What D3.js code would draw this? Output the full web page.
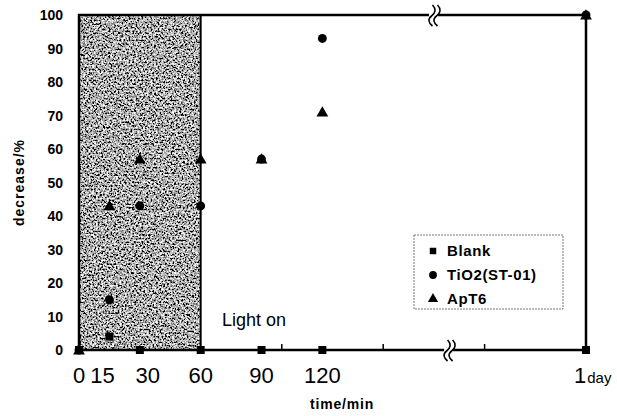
<!DOCTYPE html>
<html>
<head>
<meta charset="utf-8">
<script src="https://cdn.jsdelivr.net/npm/d3@7"></script>
<style>
  body { margin: 0; background: #fff; }
  svg { display: block; font-family: "Liberation Sans", Arial, sans-serif; }
</style>
</head>
<body>
<svg id="chart"></svg>
<script>
"use strict";

// time points, minutes (250 stands for "1 day" after the axis break)
const times = [0, 15, 30, 60, 90, 120, 250];
const blank = [0, 4, 0, 0, 0, 0, 0];
const tio2 = [0, 15, 43, 43, 57, 93, 100];
const apt6 = [0, 43, 57, 57, 57, 71, 100];

const seriesNames = ["Blank", "TiO2(ST-01)", "ApT6"];
const yTicks = [0, 10, 20, 30, 40, 50, 60, 70, 80, 90, 100];
const xTickLabels = ["0", "15", "30", "60", "90", "120"];
const xMinorTicks = [50, 100, 150, 200];
const darkEnd = 60;     // light off until 60 min
const breakAt = 182;

const W = 617, H = 416;
const m = { left: 79, right: 586, top: 15, bottom: 350 };

const svg = d3.select("#chart").attr("width", W).attr("height", H);

const x = d3.scaleLinear().domain([0, 250]).range([m.left, m.right]);
const y = d3.scaleLinear().domain([0, 100]).range([m.bottom, m.top]);

// grain texture for the dark period
const defs = svg.append("defs");
const f = defs.append("filter").attr("id", "grain")
  .attr("x", 0).attr("y", 0).attr("width", 1).attr("height", 1);
f.append("feTurbulence")
  .attr("type", "fractalNoise")
  .attr("baseFrequency", 0.55)
  .attr("numOctaves", 3)
  .attr("seed", 7);
f.append("feColorMatrix")
  .attr("type", "matrix")
  .attr("values", "2.8 0 0 0 -0.98  2.8 0 0 0 -0.98  2.8 0 0 0 -0.98  0 0 0 0 1");

// minor ticks (inside, pointing up)
svg.append("g")
  .selectAll("line")
  .data(xMinorTicks)
  .join("line")
  .attr("x1", d => x(d)).attr("x2", d => x(d))
  .attr("y1", m.bottom).attr("y2", m.bottom - 6)
  .attr("stroke", "#000").attr("stroke-width", 1.5);

svg.append("rect")
  .attr("x", x(0))
  .attr("y", y(100))
  .attr("width", x(darkEnd) - x(0))
  .attr("height", y(0) - y(100))
  .attr("filter", "url(#grain)");

// frame
const frame = svg.append("g").attr("stroke", "#000").attr("fill", "none");
frame.append("rect")
  .attr("x", m.left).attr("y", m.top)
  .attr("width", m.right - m.left).attr("height", m.bottom - m.top)
  .attr("stroke-width", 2.5);
frame.append("line")
  .attr("x1", x(darkEnd)).attr("x2", x(darkEnd))
  .attr("y1", m.top).attr("y2", m.bottom)
  .attr("stroke-width", 2);

// axis break marks
const breakMark = (cx, cy) => {
  const g = svg.append("g").attr("transform", `translate(${cx},${cy})`);
  g.append("rect").attr("x", -5).attr("y", -3).attr("width", 9).attr("height", 6)
    .attr("fill", "#fff");
  [-2.5, 2.5].forEach(dx => {
    g.append("path")
      .attr("d", `M${dx + 1},-10 C${dx + 5},-6 ${dx + 4},-2 ${dx},1 C${dx - 4},4 ${dx - 3},8 ${dx + 1},11`)
      .attr("fill", "none").attr("stroke", "#000").attr("stroke-width", 1.6);
  });
};
breakMark(434, m.top);
breakMark(x(breakAt) + 1, m.bottom);

// y tick labels
svg.append("g")
  .selectAll("text")
  .data(yTicks)
  .join("text")
  .attr("x", 63)
  .attr("y", d => y(d))
  .attr("dy", "0.36em")
  .attr("text-anchor", "end")
  .attr("font-size", 14)
  .attr("font-weight", "bold")
  .text(d => d);

// x tick labels (15 and 30 nudged apart as in the print)
const labelShift = [0, -7, 8, 0, 0, 0];
svg.append("g")
  .selectAll("text")
  .data(xTickLabels)
  .join("text")
  .attr("x", (d, i) => x(times[i]) + labelShift[i])
  .attr("y", 383)
  .attr("text-anchor", "middle")
  .attr("font-size", 22)
  .text(d => d);

const dayLabel = svg.append("text")
  .attr("x", x(times[6]) - 12)
  .attr("y", 383)
  .attr("font-size", 22);
dayLabel.append("tspan").text("1");
dayLabel.append("tspan").attr("font-size", 15).attr("dx", 1).text("day");

// axis titles
svg.append("text")
  .attr("x", 342).attr("y", 409)
  .attr("text-anchor", "middle")
  .attr("font-size", 14).attr("font-weight", "bold")
  .attr("letter-spacing", 0.8)
  .text("time/min");

svg.append("text")
  .attr("transform", `translate(24,${(m.top + m.bottom) / 2}) rotate(-90)`)
  .attr("text-anchor", "middle")
  .attr("font-size", 14).attr("font-weight", "bold")
  .attr("letter-spacing", 1)
  .text("decrease/%");

svg.append("text")
  .attr("x", 222).attr("y", 326)
  .attr("font-size", 18)
  .text("Light on");

// markers
const symTri = d3.symbol().type(d3.symbolTriangle).size(60);
const symCir = d3.symbol().type(d3.symbolCircle).size(62);
const symSq = d3.symbol().type(d3.symbolSquare).size(64);

const drawSeries = (vals, sym, dy) => {
  svg.append("g")
    .selectAll("path")
    .data(vals)
    .join("path")
    .attr("d", sym)
    .attr("transform", (d, i) => `translate(${x(times[i])},${y(d) + dy})`)
    .attr("fill", "#000");
};
drawSeries(apt6, symTri, 1);
drawSeries(tio2, symCir, 0);
drawSeries(blank, symSq, 0);

// legend
const lg = svg.append("g").attr("transform", "translate(414,235)");
lg.append("rect")
  .attr("width", 149).attr("height", 74)
  .attr("fill", "#fff")
  .attr("stroke", "#777").attr("stroke-width", 1)
  .attr("stroke-dasharray", "2,1");
const legendSyms = [d3.symbol().type(d3.symbolSquare).size(42),
  d3.symbol().type(d3.symbolCircle).size(48),
  d3.symbol().type(d3.symbolTriangle).size(46)];
seriesNames.forEach((name, i) => {
  const ry = 16 + i * 24;
  lg.append("path")
    .attr("d", legendSyms[i])
    .attr("transform", `translate(19,${ry})`)
    .attr("fill", "#000");
  lg.append("text")
    .attr("x", 33).attr("y", ry)
    .attr("dy", "0.36em")
    .attr("font-size", 15).attr("font-weight", "bold")
    .attr("letter-spacing", 0.6)
    .text(name);
});
</script>
</body>
</html>
